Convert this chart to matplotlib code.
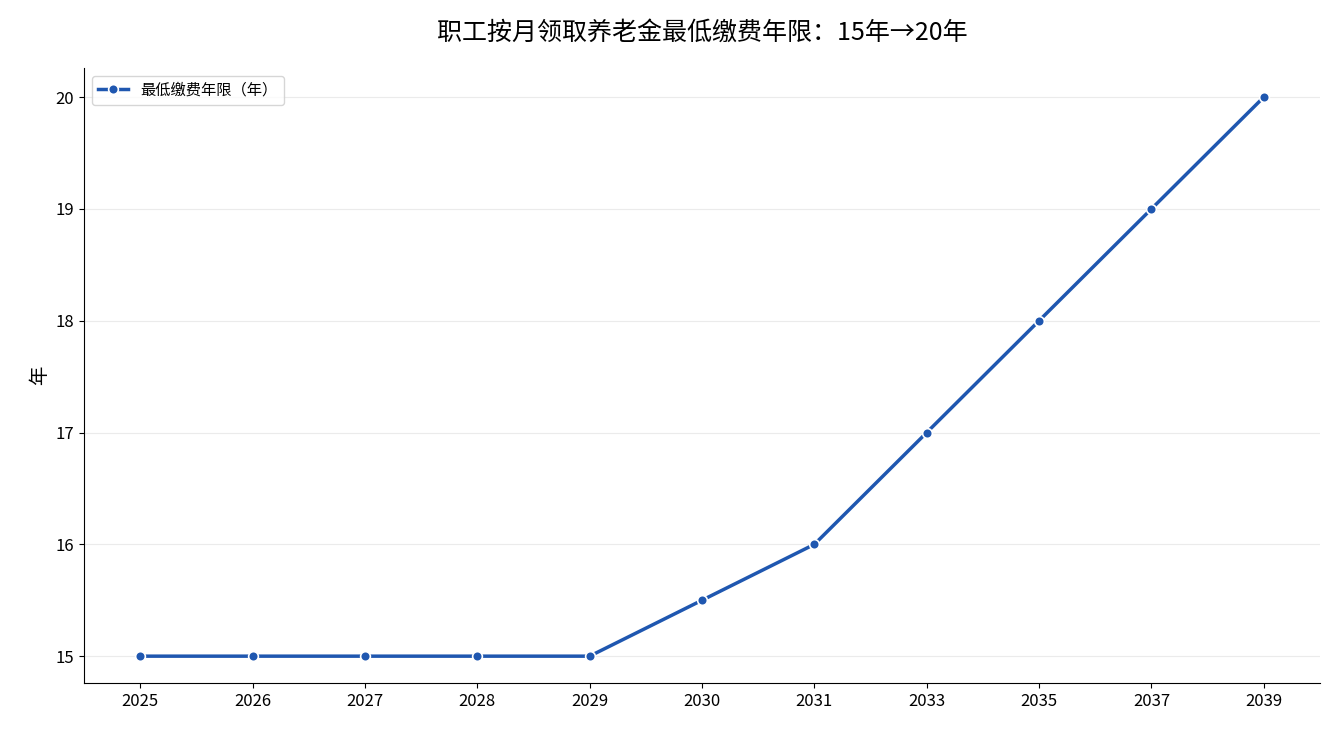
import matplotlib
matplotlib.use("Agg")
import matplotlib.pyplot as plt

plt.rcParams['font.family'] = ['Noto Sans CJK SC', 'DejaVu Sans']

years = ["2025","2026","2027","2028","2029","2030","2031","2033","2035","2037","2039"]
values = [15, 15, 15, 15, 15, 15.5, 16, 17, 18, 19, 20]
yticks = [15, 16, 17, 18, 19, 20]

fig = plt.figure(figsize=(13.35, 7.35), dpi=100)
ax = fig.add_axes([84/1335, 1-683/735, (1320-84)/1335, (683-68)/735])
x = list(range(len(years)))
ax.plot(x, values, color='#1f57b0', lw=2.5, marker='o', markersize=7,
        markeredgecolor='white', markeredgewidth=1.2, label='最低缴费年限（年）')
ax.set_xticks(x)
ax.set_xticklabels(years)
ax.set_yticks(yticks)
ax.set_xlim(-0.5, 10.5)
ax.set_ylim(14.76, 20.26)
ax.grid(axis='y', color='#ebebeb', lw=0.8)
ax.set_axisbelow(True)
for s in ['top', 'right']:
    ax.spines[s].set_visible(False)
ax.tick_params(labelsize=12)
ax.set_ylabel('年', fontsize=14)
ax.set_title('职工按月领取养老金最低缴费年限：15年→20年', fontsize=18, pad=20)
ax.legend(loc='upper left', fontsize=11)
fig.savefig('out.png', dpi=100)
